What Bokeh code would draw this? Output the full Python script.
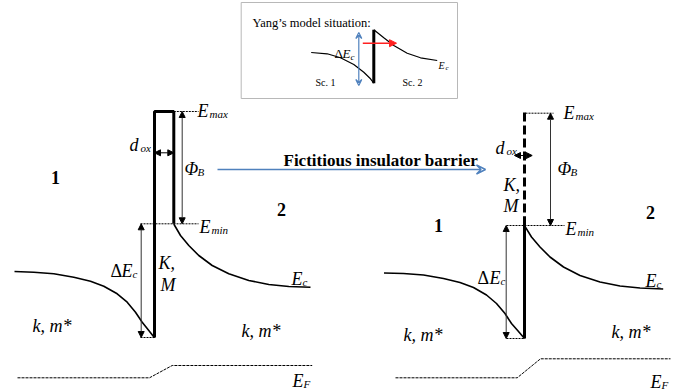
from bokeh.plotting import figure
from bokeh.models import Range1d, Arrow, VeeHead, NormalHead
from bokeh.core.properties import value
from bokeh.embed import file_html
from bokeh.resources import INLINE

SERIF = "Liberation Serif"

# ---------------- data (diagram coordinates, px of the reference) -------------
# Left panel
L_barrier_x = [154, 154, 173.3, 173.3]
L_barrier_y = [337, 111, 111, 223.3]
L_curve1_x = [14, 33.3, 53.3, 73.3, 90, 103.3, 116.7, 126.7, 135, 141.7, 148.3, 154]
L_curve1_y = [271, 271.7, 273.3, 276.7, 280.7, 285.7, 293.3, 301.7, 311.7, 321.7, 330, 337.3]
L_curve2_x = [173.3, 180, 188.3, 198.3, 211.7, 228.3, 248.3, 268.3, 288.3, 310]
L_curve2_y = [223.5, 235, 245, 255, 265, 273.3, 280, 284, 286, 286.7]
L_ef_x = [17, 149, 171.7, 311.7]
L_ef_y = [377.3, 377.3, 365, 365]

# Right panel
R_dash_x = [524, 524]
R_dash_y = [112, 217]
R_solid_x = [524, 524]
R_solid_y = [216, 338]
R_curve1_x = [383.5, 403, 423, 443, 459.5, 473, 486, 496, 504.5, 511, 518, 524]
R_curve1_y = [272.5, 273, 274.5, 278, 282, 287, 294.5, 303, 313, 323, 331, 338]
R_curve2_x = [524, 531, 539.5, 549.5, 563, 579.5, 599.5, 619.5, 639.5, 662.7]
R_curve2_y = [225.2, 236.5, 246.5, 256.5, 266.5, 275, 281.5, 285.5, 287.5, 288.5]
R_ef_x = [395, 516.7, 540, 670]
R_ef_y = [377.3, 377.3, 358.3, 358.3]

# thin dotted reference levels (x0, x1, y)
lev_x0 = [173.3, 140, 140, 525, 506, 506]
lev_x1 = [198, 198, 154, 553, 564, 524]
lev_y = [111, 223.3, 337, 112.7, 225, 338]

# double arrows (x0, y0, x1, y1)
dbl_x0 = [181.7, 140.7, 154, 550, 505.7, 514]
dbl_y0 = [111, 223.3, 152.3, 112.7, 225, 155]
dbl_x1 = [181.7, 140.7, 173.3, 550, 505.7, 531.7]
dbl_y1 = [223.3, 337, 152.3, 225, 338, 155]
dbl_col = ["#333333", "#333333", "black", "#333333", "#333333", "black"]

# main blue arrow
blue_x = [217, 485]
blue_y = [169, 169]

# Inset
box = dict(left=240.7, right=457, top=2, bottom=98)
I_curve1_x = [310.7, 326.7, 340, 353.3, 363.3, 370, 373.3]
I_curve1_y = [52, 53.3, 57.3, 64, 71.7, 78.3, 82.7]
I_curve2_x = [373.3, 383.3, 393.3, 406.7, 420, 436.7]
I_curve2_y = [29.3, 37.3, 45, 52.7, 57.3, 60]
I_bar_x = [373.3, 373.3]
I_bar_y = [29.3, 82.7]
I_blue = [358.3, 32, 358.3, 85]
I_red = [362.3, 42.7, 396, 42.7]

# Texts
it_x = [197, 199, 184, 129, 121, 158, 160, 32, 241, 291, 292,
        563, 565, 557, 495, 489, 503, 503, 403, 611, 645, 650]
it_y = [110, 226, 168, 144, 270, 262, 284, 325, 330, 278, 380,
        112, 228, 168, 147, 277, 184, 205, 334, 331, 280, 381]
it_t = ["E", "E", "Φ", "d", "E", "K,", "M", "k, m*", "k, m*", "E", "E",
        "E", "E", "Φ", "d", "E", "K,", "M", "k, m*", "k, m*", "E", "E"]
sub_x = [209, 211, 197, 140, 132, 302, 303,
         575, 577, 570, 506, 500, 656, 661]
sub_y = [113, 229, 171, 147, 273, 281, 383,
         115, 231, 171, 150, 280, 283, 384]
sub_t = ["max", "min", "B", "ox", "c", "c", "F",
         "max", "min", "B", "ox", "c", "c", "F"]
delta_x = [110, 477]
delta_y = [270, 277]
num_x = [55, 281, 438, 650]
num_y = [177, 209, 225, 212]
num_t = ["1", "2", "1", "2"]

# ---------------- figure ------------------------------------------------------
p = figure(width=683, height=390, output_backend="svg", toolbar_location=None,
           x_range=Range1d(0, 683), y_range=Range1d(390, 0),
           min_border=0, outline_line_color=None)
p.axis.visible = False
p.grid.visible = False

# inset box
p.quad(left=[box["left"]], right=[box["right"]], top=[box["top"]], bottom=[box["bottom"]],
       fill_color=None, line_color="#b8b8b8", line_width=1)

# barriers and curves
p.line(L_barrier_x, L_barrier_y, line_color="black", line_width=3)
p.line(L_curve1_x, L_curve1_y, line_color="black", line_width=1.6)
p.line(L_curve2_x, L_curve2_y, line_color="black", line_width=1.6)
p.line(L_ef_x, L_ef_y, line_color="black", line_width=1, line_dash="3 1")

p.line(R_dash_x, R_dash_y, line_color="black", line_width=3, line_dash="9 4")
p.line(R_solid_x, R_solid_y, line_color="black", line_width=3)
p.line(R_curve1_x, R_curve1_y, line_color="black", line_width=1.6)
p.line(R_curve2_x, R_curve2_y, line_color="black", line_width=1.6)
p.line(R_ef_x, R_ef_y, line_color="black", line_width=1, line_dash="3 1")

p.segment(x0=lev_x0, y0=lev_y, x1=lev_x1, y1=lev_y, line_color="black",
          line_width=1, line_dash="2 1")

for x0, y0, x1, y1, c in zip(dbl_x0, dbl_y0, dbl_x1, dbl_y1, dbl_col):
    p.add_layout(Arrow(x_start=x0, y_start=y0, x_end=x1, y_end=y1,
                       line_color=c, line_width=1,
                       start=NormalHead(size=6, fill_color="black", line_color="black"),
                       end=NormalHead(size=6, fill_color="black", line_color="black")))

p.add_layout(Arrow(x_start=blue_x[0], y_start=blue_y[0], x_end=blue_x[1], y_end=blue_y[1],
                   line_color="#4f81bd", line_width=1.5,
                   end=VeeHead(size=9, fill_color=None, line_color="#4f81bd", line_width=1.5)))

# inset drawing
p.line(I_curve1_x, I_curve1_y, line_color="black", line_width=1.2)
p.line(I_curve2_x, I_curve2_y, line_color="black", line_width=1.2)
p.line(I_bar_x, I_bar_y, line_color="black", line_width=3)
p.add_layout(Arrow(x_start=I_blue[0], y_start=I_blue[1], x_end=I_blue[2], y_end=I_blue[3],
                   line_color="#4f81bd", line_width=1.2,
                   start=VeeHead(size=6, fill_color=None, line_color="#4f81bd", line_width=1.2),
                   end=VeeHead(size=6, fill_color=None, line_color="#4f81bd", line_width=1.2)))
p.add_layout(Arrow(x_start=I_red[0], y_start=I_red[1], x_end=I_red[2], y_end=I_red[3],
                   line_color="#ff2020", line_width=1.5,
                   end=NormalHead(size=7, fill_color="#ff2020", line_color="#ff2020")))

# texts
p.text(x=it_x, y=it_y, text=it_t, text_font=value(SERIF), text_font_size="18px",
       text_font_style="italic", text_baseline="alphabetic", text_align="left", text_color="black")
p.text(x=sub_x, y=sub_y, text=sub_t, text_font=value(SERIF), text_font_size="11px",
       text_font_style="italic", text_baseline="alphabetic", text_align="left", text_color="black")
p.text(x=delta_x, y=delta_y, text=["Δ", "Δ"], text_font=value(SERIF), text_font_size="18px",
       text_baseline="alphabetic", text_align="left", text_color="black")
p.text(x=num_x, y=num_y, text=num_t, text_font=value(SERIF), text_font_size="18px",
       text_font_style="bold", text_baseline="alphabetic", text_align="center", text_color="black")
p.text(x=[283], y=[160], text=["Fictitious insulator barrier"], text_font=value(SERIF),
       text_font_size="17px", text_font_style="bold", text_baseline="alphabetic",
       text_align="left", text_color="black")

# inset texts
p.text(x=[252], y=[22], text=["Yang\u2019s model situation:"], text_font=value(SERIF),
       text_font_size="12.5px", text_baseline="alphabetic", text_align="left", text_color="black")
p.text(x=[315, 402], y=[82, 82], text=["Sc. 1", "Sc. 2"], text_font=value(SERIF),
       text_font_size="10px", text_baseline="alphabetic", text_align="left", text_color="black")
p.text(x=[334], y=[53], text=["Δ"], text_font=value(SERIF), text_font_size="13px",
       text_baseline="alphabetic", text_align="left", text_color="black")
p.text(x=[342, 438], y=[53, 65], text=["E", "E"], text_font=value(SERIF),
       text_font_size=["13px", "10px"], text_font_style="italic",
       text_baseline="alphabetic", text_align="left", text_color="black")
p.text(x=[350, 445], y=[56, 67], text=["c", "c"], text_font=value(SERIF),
       text_font_size=["9px", "7px"], text_font_style="italic",
       text_baseline="alphabetic", text_align="left", text_color="black")

open("out.html", "w").write(file_html(p, INLINE))
